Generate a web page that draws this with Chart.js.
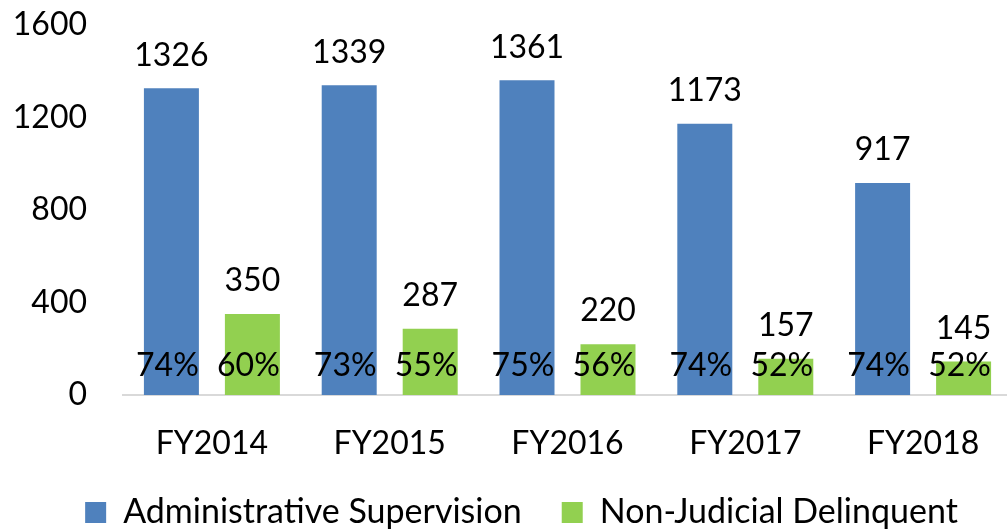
<!DOCTYPE html>
<html><head><meta charset="utf-8">
<script src="https://cdn.jsdelivr.net/npm/chart.js@4/dist/chart.umd.min.js"></script>
<style>html,body{margin:0;padding:0;background:#fff;overflow:hidden}
#wrap{width:1012px;height:529px;position:relative}</style></head>
<body><div id="wrap"><canvas id="c"></canvas></div>
<script>
const categories = ['FY2014', 'FY2015', 'FY2016', 'FY2017', 'FY2018'];
const seriesNames = ['Administrative Supervision', 'Non-Judicial Delinquent'];
const adminSupervision = [1326, 1339, 1361, 1173, 917];
const nonJudicialDelinquent = [350, 287, 220, 157, 145];
const adminPct = ['74%', '73%', '75%', '74%', '74%'];
const nonJudicialPct = ['60%', '55%', '56%', '52%', '52%'];
const yMin = 0, yMax = 1600, yStep = 400;

const FONT = 'Lato, "Noto Sans", sans-serif';
const FS = 32;
const LEGEND_FS = 34;

const labelPlugin = {
  id: 'barLabels',
  afterDatasetsDraw(chart) {
    const ctx = chart.ctx;
    const pcts = [adminPct, nonJudicialPct];
    const yScale = chart.scales.y;
    ctx.save();
    ctx.font = FS + 'px ' + FONT;
    ctx.fillStyle = '#000';
    ctx.textAlign = 'center';
    ctx.textBaseline = 'middle';
    chart.data.datasets.forEach((ds, di) => {
      const meta = chart.getDatasetMeta(di);
      meta.data.forEach((bar, i) => {
        ctx.fillText(String(ds.data[i]), bar.x, bar.y - 33);
        ctx.fillText(pcts[di][i], bar.x - 4, yScale.bottom - 29);
      });
    });
    ctx.restore();
  }
};

// centre the legend row where the reference has it (slightly right of canvas centre)
const legendShift = {
  id: 'legendShift',
  afterLayout(chart) {
    const lg = chart.legend;
    if (lg) { lg.left += 15.5; lg.right += 15.5; }
  }
};

new Chart(document.getElementById('c'), {
  type: 'bar',
  data: {
    labels: categories,
    datasets: [
      { label: seriesNames[0], data: adminSupervision, backgroundColor: '#4F81BD',
        categoryPercentage: 0.911, barPercentage: 0.679 },
      { label: seriesNames[1], data: nonJudicialDelinquent, backgroundColor: '#92D050',
        categoryPercentage: 0.911, barPercentage: 0.679 }
    ]
  },
  options: {
    responsive: true,
    maintainAspectRatio: false,
    animation: false,
    layout: { padding: { top: 0, bottom: -10.5, left: 0, right: 0 } },
    plugins: {
      legend: {
        position: 'bottom',
        labels: { boxWidth: 21, boxHeight: 21, padding: 40, color: '#000',
          font: { family: FONT, size: LEGEND_FS } }
      },
      tooltip: { enabled: false }
    },
    scales: {
      x: {
        grid: { display: false, drawTicks: false },
        border: { display: true, color: '#d9d9d9', width: 2 },
        ticks: { color: '#000', padding: 29, font: { family: FONT, size: FS } },
        afterFit(scale) { scale.height = 60.5; }
      },
      y: {
        min: yMin, max: yMax,
        grid: { display: false, drawTicks: false },
        border: { display: false },
        ticks: { stepSize: yStep, color: '#000', padding: 36, font: { family: FONT, size: FS },
          callback: (v) => String(v) },
        afterFit(scale) { scale.width = 123; scale.paddingTop = 25; scale.paddingBottom = 0; }
      }
    }
  },
  plugins: [labelPlugin, legendShift]
});
</script></body></html>
